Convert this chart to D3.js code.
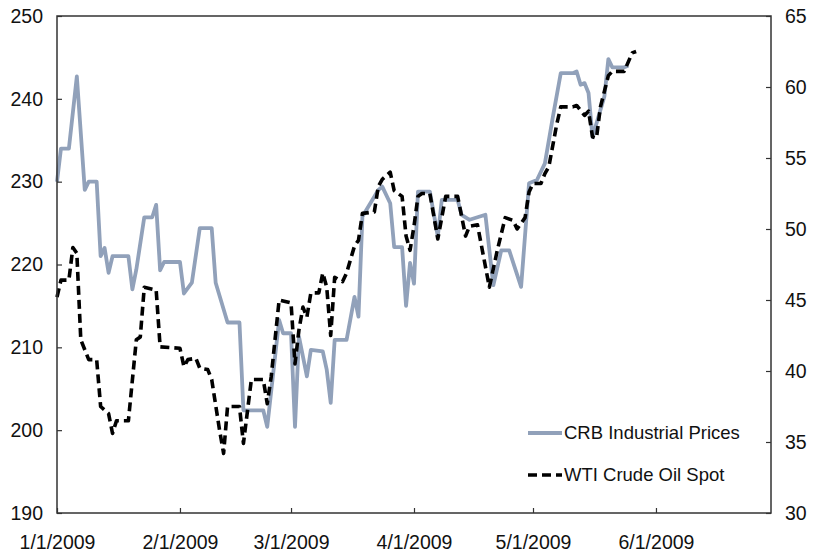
<!DOCTYPE html>
<html>
<head>
<meta charset="utf-8">
<script src="https://cdn.jsdelivr.net/npm/d3@7"></script>
<style>
  html, body { margin: 0; padding: 0; background: #fff; }
  svg { display: block; font-family: "Liberation Sans", Arial, sans-serif; }
</style>
</head>
<body>
<svg id="chart" width="816" height="552"></svg>
<script>
// ---- Data ----
const crbDates = ["2009-01-01","2009-01-02","2009-01-04","2009-01-06","2009-01-08","2009-01-09","2009-01-11","2009-01-12","2009-01-13","2009-01-14","2009-01-15","2009-01-19","2009-01-20","2009-01-21","2009-01-23","2009-01-25","2009-01-26","2009-01-27","2009-01-28","2009-02-01","2009-02-02","2009-02-04","2009-02-06","2009-02-09","2009-02-10","2009-02-13","2009-02-16","2009-02-17","2009-02-22","2009-02-23","2009-02-26","2009-02-27","2009-03-01","2009-03-02","2009-03-03","2009-03-05","2009-03-06","2009-03-09","2009-03-10","2009-03-11","2009-03-12","2009-03-15","2009-03-17","2009-03-18","2009-03-19","2009-03-23","2009-03-24","2009-03-26","2009-03-27","2009-03-29","2009-03-30","2009-03-31","2009-04-01","2009-04-02","2009-04-05","2009-04-07","2009-04-08","2009-04-12","2009-04-13","2009-04-15","2009-04-19","2009-04-21","2009-04-23","2009-04-25","2009-04-28","2009-04-30","2009-05-02","2009-05-04","2009-05-06","2009-05-08","2009-05-11","2009-05-12","2009-05-13","2009-05-14","2009-05-15","2009-05-16","2009-05-19","2009-05-20","2009-05-21","2009-05-24","2009-05-25"];
const crbValues = [230,234,234,242.7,229,230,230,221,222,219,221,221,217,219.4,225.7,225.7,227.2,219.3,220.3,220.3,216.5,217.8,224.4,224.4,217.8,213,213,202.4,202.4,200.4,213.3,211.7,211.7,200.4,211.3,206.5,209.7,209.5,207.3,203.3,210.9,210.9,216.1,213.7,225.8,229,229.4,227.4,222.1,222.1,215,220.2,217.7,228.8,228.8,223.4,227.8,227.8,226,225.4,226,217.5,221.7,221.7,217.3,229.8,230.2,232.2,237.8,243.1,243.1,243.3,241.7,241.9,240.7,235.4,240.3,244.8,243.8,243.8,244];

const wtiDates = ["2009-01-01","2009-01-02","2009-01-04","2009-01-05","2009-01-06","2009-01-07","2009-01-09","2009-01-11","2009-01-12","2009-01-14","2009-01-15","2009-01-16","2009-01-19","2009-01-21","2009-01-22","2009-01-23","2009-01-26","2009-01-27","2009-02-01","2009-02-02","2009-02-03","2009-02-05","2009-02-06","2009-02-08","2009-02-09","2009-02-11","2009-02-12","2009-02-13","2009-02-16","2009-02-17","2009-02-19","2009-02-22","2009-02-23","2009-02-24","2009-02-26","2009-03-01","2009-03-02","2009-03-03","2009-03-04","2009-03-05","2009-03-06","2009-03-08","2009-03-09","2009-03-10","2009-03-11","2009-03-12","2009-03-14","2009-03-15","2009-03-17","2009-03-18","2009-03-19","2009-03-22","2009-03-23","2009-03-24","2009-03-26","2009-03-27","2009-03-29","2009-03-30","2009-03-31","2009-04-01","2009-04-02","2009-04-03","2009-04-05","2009-04-07","2009-04-09","2009-04-12","2009-04-14","2009-04-15","2009-04-17","2009-04-20","2009-04-22","2009-04-24","2009-04-26","2009-04-27","2009-04-29","2009-04-30","2009-05-01","2009-05-03","2009-05-04","2009-05-05","2009-05-07","2009-05-08","2009-05-11","2009-05-12","2009-05-14","2009-05-15","2009-05-16","2009-05-17","2009-05-18","2009-05-20","2009-05-21","2009-05-24","2009-05-26","2009-05-27"];
const wtiValues = [45.2,46.4,46.4,48.7,48.3,42.2,40.8,40.8,37.5,37.0,35.6,36.5,36.5,42.2,42.4,45.9,45.7,41.7,41.6,40.3,40.8,40.9,40.2,40.1,39.4,35.8,34.2,37.5,37.5,34.9,39.4,39.4,37.7,39.6,45.0,44.8,40.5,42.9,44.5,43.8,45.5,45.5,46.9,45.9,42.5,46.6,46.3,46.9,48.8,49.2,51.1,51.2,53.0,53.5,54.0,52.7,52.3,49.5,48.5,50.2,52.3,52.5,52.5,49.3,52.3,52.3,49.5,50.2,50.3,45.9,48.5,50.8,50.6,50.0,50.8,52.6,53.2,53.2,53.9,54.4,57.4,58.6,58.6,58.7,58.0,58.3,56.5,56.4,58.6,60.8,61.1,61.1,62.4,62.5];

const leftTicks = [190, 200, 210, 220, 230, 240, 250];
const rightTicks = [30, 35, 40, 45, 50, 55, 60, 65];
const xTickDates = ["2009-01-01","2009-02-01","2009-03-01","2009-04-01","2009-05-01","2009-06-01"];
const seriesNames = ["CRB Industrial Prices", "WTI Crude Oil Spot"];

// ---- Layout ----
const L = 57, R = 771, T = 16, B = 513;
const parse = d3.utcParse("%Y-%m-%d");
const fmt = d3.utcFormat("%-m/%-d/%Y");

const x = d3.scaleUtc().domain([parse("2009-01-01"), parse("2009-06-30")]).range([L, R]);
const yL = d3.scaleLinear().domain([190, 250]).range([B, T]);
const yR = d3.scaleLinear().domain([30, 65]).range([B, T]);

const svg = d3.select("#chart");

const crb = crbDates.map((d, i) => ({ date: parse(d), value: crbValues[i] }));
const wti = wtiDates.map((d, i) => ({ date: parse(d), value: wtiValues[i] }));

// ---- Lines ----
const lineL = d3.line().x(d => x(d.date)).y(d => yL(d.value));
const lineR = d3.line().x(d => x(d.date)).y(d => yR(d.value));

svg.append("path").datum(crb)
  .attr("d", lineL)
  .attr("fill", "none")
  .attr("stroke", "#91a1ba")
  .attr("stroke-width", 3.8)
  .attr("stroke-linejoin", "round");

svg.append("path").datum(wti)
  .attr("d", lineR)
  .attr("fill", "none")
  .attr("stroke", "#000")
  .attr("stroke-width", 3.6)
  .attr("stroke-linejoin", "round")
  .attr("stroke-dasharray", "9,5");

// ---- Frame ----
svg.append("rect")
  .attr("x", L).attr("y", T).attr("width", R - L).attr("height", B - T)
  .attr("fill", "none").attr("stroke", "#333").attr("stroke-width", 1.5);

// ---- Axes ----
const axisStyle = g => {
  g.select(".domain").remove();
  g.selectAll(".tick line").attr("stroke", "#333").attr("stroke-width", 1.2);
  g.selectAll(".tick text").attr("fill", "#111").style("font-size", "19.5px");
};

svg.append("g")
  .attr("transform", `translate(0,${B})`)
  .call(d3.axisBottom(x).tickValues(xTickDates.map(parse)).tickFormat(fmt).tickSizeInner(-5).tickSizeOuter(0).tickPadding(22))
  .call(axisStyle);

svg.append("g")
  .attr("transform", `translate(${L},0)`)
  .call(d3.axisLeft(yL).tickValues(leftTicks).tickFormat(d3.format("d")).tickSizeInner(-5).tickSizeOuter(0).tickPadding(14))
  .call(axisStyle);

svg.append("g")
  .attr("transform", `translate(${R},0)`)
  .call(d3.axisRight(yR).tickValues(rightTicks).tickFormat(d3.format("d")).tickSizeInner(-5).tickSizeOuter(0).tickPadding(14))
  .call(axisStyle);

// ---- Legend ----
const legend = svg.append("g");
const legendItems = [
  { name: seriesNames[0], y: 433, stroke: "#91a1ba", width: 3.8, dash: null },
  { name: seriesNames[1], y: 475, stroke: "#000", width: 3.6, dash: "9,5" }
];
legendItems.forEach(it => {
  legend.append("line")
    .attr("x1", 528).attr("x2", 562).attr("y1", it.y).attr("y2", it.y)
    .attr("stroke", it.stroke).attr("stroke-width", it.width)
    .attr("stroke-dasharray", it.dash);
  legend.append("text")
    .attr("x", 564).attr("y", it.y).attr("dy", "0.35em")
    .style("font-size", "18.5px").attr("fill", "#111")
    .text(it.name);
});
</script>
</body>
</html>
